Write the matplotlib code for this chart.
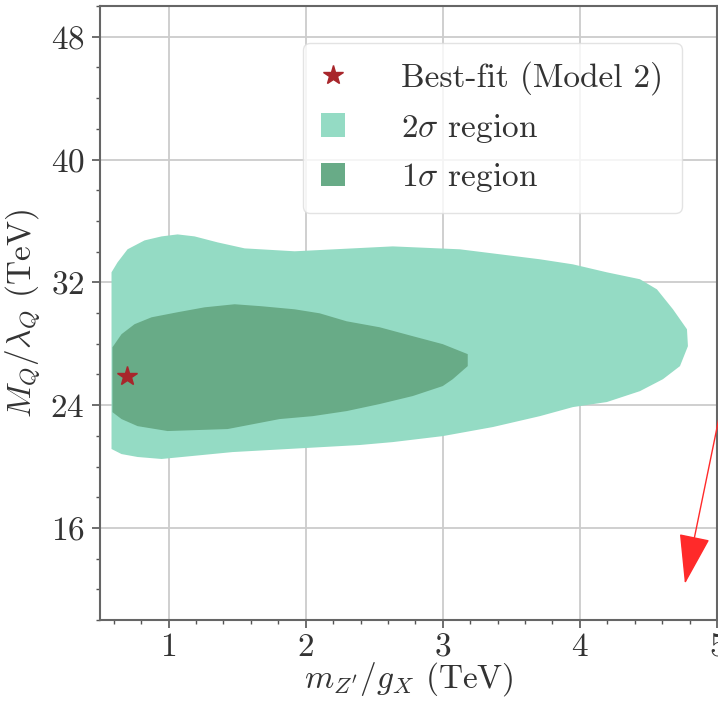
import matplotlib
matplotlib.use("Agg")
import matplotlib.pyplot as plt
from matplotlib.patches import Polygon, Patch
from matplotlib.lines import Line2D
from matplotlib.ticker import MultipleLocator

plt.rcParams['font.family'] = ['cmr10', 'DejaVu Serif']
plt.rcParams['mathtext.fontset'] = 'cm'
plt.rcParams['axes.formatter.use_mathtext'] = True

# 2-sigma region outline (x: m_Z'/g_X in TeV, y: M_Q/lambda_Q in TeV)
sig2_x = [0.584, 0.584, 0.628, 0.701, 0.825, 0.949, 1.066, 1.190, 1.358, 1.555, 1.920,
          2.635, 3.124, 3.708, 3.949, 4.197, 4.438, 4.562, 4.679, 4.781, 4.788, 4.730,
          4.606, 4.438, 4.197, 3.949, 3.708, 3.365, 3.000, 2.635, 2.394, 1.467, 0.949,
          0.774, 0.657]
sig2_y = [21.14, 32.65, 33.30, 34.15, 34.73, 34.99, 35.12, 34.99, 34.60, 34.21, 34.02,
          34.34, 34.15, 33.50, 33.17, 32.65, 32.20, 31.54, 30.24, 28.94, 27.84, 26.54,
          25.69, 24.91, 24.20, 23.87, 23.28, 22.57, 21.98, 21.59, 21.40, 20.94, 20.49,
          20.62, 20.81]

# 1-sigma region outline
sig1_x = [0.591, 0.591, 0.657, 0.752, 0.876, 1.066, 1.263, 1.482, 1.679, 1.920, 2.102,
          2.299, 2.540, 2.781, 3.000, 3.182, 3.182, 3.073, 3.000, 2.781, 2.540, 2.299,
          2.051, 1.810, 1.431, 0.993, 0.774, 0.657]
sig1_y = [23.54, 27.77, 28.62, 29.27, 29.72, 30.05, 30.37, 30.57, 30.44, 30.24, 29.98,
          29.46, 29.07, 28.49, 27.97, 27.32, 26.54, 25.69, 25.24, 24.59, 24.07, 23.61,
          23.28, 23.09, 22.44, 22.31, 22.63, 23.09]

best_x = [0.70]
best_y = [25.9]

# annotation arrow (tail, head) in data coordinates
arrow_tail = (5.02, 23.4)
arrow_head = (4.766, 12.36)

c2 = '#94dbc4'
c1 = '#68ab87'

fig = plt.figure(figsize=(7.18, 7.01), dpi=100)
ax = fig.add_axes([100/718, 1 - 620/701, 617/718, 614/701])

ax.add_patch(Polygon(list(zip(sig2_x, sig2_y)), closed=True, facecolor=c2, edgecolor='none', zorder=1))
ax.add_patch(Polygon(list(zip(sig1_x, sig1_y)), closed=True, facecolor=c1, edgecolor='none', zorder=2))
ax.plot(best_x, best_y, marker='*', color='#a8262b', markersize=15, linestyle='none', zorder=3)

ax.set_xlim(0.5, 5)
ax.set_ylim(10, 50)
ax.xaxis.set_major_locator(MultipleLocator(1))
ax.xaxis.set_minor_locator(MultipleLocator(0.2))
ax.yaxis.set_minor_locator(MultipleLocator(2))
ax.set_yticks([16, 24, 32, 40, 48])
ax.grid(True, which='major', color='#cccccc', linewidth=1.3, zorder=0)
ax.set_axisbelow(True)
for s in ax.spines.values():
    s.set_color('#666666')
    s.set_linewidth(1.5)
ax.tick_params(which='major', direction='out', length=6, width=1.2, color='#555555',
               labelsize=24, labelcolor='#333333', top=False, right=False, pad=5)
ax.tick_params(axis='x', which='major', pad=3)
ax.tick_params(which='minor', direction='out', length=3, width=1.0, color='#555555',
               top=False, right=False)

ax.set_xlabel(r"$m_{Z'}/g_X$ (TeV)", fontsize=24, color='#333333', labelpad=-1)
ax.set_ylabel(r"$M_Q/\lambda_Q$ (TeV)", fontsize=24, color='#333333', labelpad=6)

handles = [Line2D([], [], marker='*', color='#a8262b', markersize=15, linestyle='none'),
           Patch(facecolor=c2, edgecolor='none'),
           Patch(facecolor=c1, edgecolor='none')]
labels = ['Best-fit (Model 2)', r'$2\sigma$ region', r'$1\sigma$ region']
leg = ax.legend(handles, labels, loc='upper right', bbox_to_anchor=(0.943, 0.94),
                borderaxespad=0.0,
                fontsize=24, frameon=True, framealpha=0.8, edgecolor='#dddddd',
                handlelength=0.7, handleheight=0.7, handletextpad=1.7,
                labelspacing=0.5, borderpad=0.55, fancybox=True)
for t in leg.get_texts():
    t.set_color('#333333')

ax.annotate('', xy=arrow_head, xytext=arrow_tail, xycoords='data', textcoords='data',
            annotation_clip=False,
            arrowprops=dict(arrowstyle='-|>,head_length=1.6,head_width=0.5', color='#ff2a2a',
                            lw=1.0, mutation_scale=20, shrinkA=0, shrinkB=0))

fig.savefig('out.png', dpi=100)
